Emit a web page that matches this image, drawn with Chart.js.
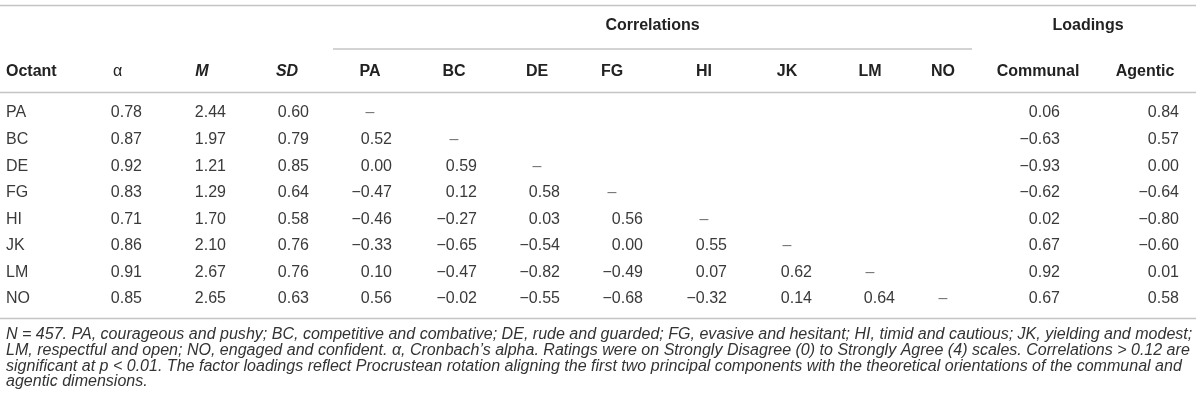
<!DOCTYPE html>
<html><head><meta charset="utf-8">
<script src="https://cdn.jsdelivr.net/npm/chart.js@4"></script>
<style>html,body{margin:0;padding:0;background:#fff}#wrap{width:1200px;height:413px;position:relative}</style>
</head><body><div id="wrap"><canvas id="c"></canvas></div>
<script>
// ---------- DATA ----------
const octants = ['PA','BC','DE','FG','HI','JK','LM','NO'];
const alphas  = [0.78,0.87,0.92,0.83,0.71,0.86,0.91,0.85];
const means   = [2.44,1.97,1.21,1.29,1.70,2.10,2.67,2.65];
const sds     = [0.60,0.79,0.85,0.64,0.58,0.76,0.76,0.63];
// lower-triangle correlations (row octant vs earlier octants)
const corrPA = [];
const corrBC = [0.52];
const corrDE = [0.00, 0.59];
const corrFG = [-0.47, 0.12, 0.58];
const corrHI = [-0.46, -0.27, 0.03, 0.56];
const corrJK = [-0.33, -0.65, -0.54, 0.00, 0.55];
const corrLM = [0.10, -0.47, -0.82, -0.49, 0.07, 0.62];
const corrNO = [0.56, -0.02, -0.55, -0.68, -0.32, 0.14, 0.64];
const communal = [0.06,-0.63,-0.93,-0.62,0.02,0.67,0.92,0.67];
const agentic  = [0.84,0.57,0.00,-0.64,-0.80,-0.60,0.01,0.58];
const columnHeaders = ['Octant','α','M','SD','PA','BC','DE','FG','HI','JK','LM','NO','Communal','Agentic'];
const groupHeaders = ['Correlations','Loadings'];
const footnoteLines = [
  'N = 457. PA, courageous and pushy; BC, competitive and combative; DE, rude and guarded; FG, evasive and hesitant; HI, timid and cautious; JK, yielding and modest;',
  'LM, respectful and open; NO, engaged and confident. α, Cronbach\u2019s alpha. Ratings were on Strongly Disagree (0) to Strongly Agree (4) scales. Correlations > 0.12 are',
  'significant at p < 0.01. The factor loadings reflect Procrustean rotation aligning the first two principal components with the theoretical orientations of the communal and',
  'agentic dimensions.'
];

// ---------- LAYOUT (style only) ----------
const FONT = '"Liberation Sans", Arial, sans-serif';
const colCenter = [6, 117.5, 202, 287, 370, 454, 537, 612, 704, 787, 870, 943, 1038, 1145];
const colRight  = [null, 142, 226, 309, 392, 477, 560, 643, 727, 812, 895, null, 1060, 1179];
const headerStyle = ['bold','normal','bold italic','bold italic','bold','bold','bold','bold','bold','bold','bold','bold','bold','bold'];
const groupSpan = [[333, 972], [997, 1179]];
const Y = {topRule:-4.046, group:-3.274, groupRule:-2.409, header:-1.543, headerRule:-0.772, bottomRule:7.734, foot:[8.355,8.957,9.560,10.125]};
const ROW0 = 113, STEP = 26.57;

const corr = [corrPA,corrBC,corrDE,corrFG,corrHI,corrJK,corrLM,corrNO];
const fmt = v => v.toFixed(2).replace('-', '\u2212');

// Build datasets: each column a scatter dataset of text cells
const datasets = [];
datasets.push({label:'Octant', align:'left', data: octants.map((o,i)=>({x:colCenter[0], y:i, t:o}))});
[[alphas,1],[means,2],[sds,3]].forEach(([arr,c])=>{
  datasets.push({label:columnHeaders[c], align:'right', data: arr.map((v,i)=>({x:colRight[c], y:i, t:fmt(v)}))});
});
for (let j = 0; j < 8; j++) {
  const pts = [];
  for (let i = j; i < 8; i++) {
    if (i === j) pts.push({x: colCenter[4+j], y: i, t: '\u2013', dash: true});
    else pts.push({x: colRight[4+j], y: i, t: fmt(corr[i][j])});
  }
  datasets.push({label: columnHeaders[4+j], align:'right', data: pts});
}
datasets.push({label:'Communal', align:'right', data: communal.map((v,i)=>({x:colRight[12], y:i, t:fmt(v)}))});
datasets.push({label:'Agentic', align:'right', data: agentic.map((v,i)=>({x:colRight[13], y:i, t:fmt(v)}))});
datasets.forEach(d => { d.pointRadius = 0; d.pointHoverRadius = 0; d.showLine = false; });

const tablePlugin = {
  id: 'tablePlugin',
  afterDatasetsDraw(chart) {
    const ctx = chart.ctx, xs = chart.scales.x, ys = chart.scales.y;
    const px = v => xs.getPixelForValue(v), py = v => ys.getPixelForValue(v);
    ctx.save();
    // rules
    const rule = (x1, x2, y, w, col) => { ctx.beginPath(); ctx.strokeStyle = col; ctx.lineWidth = w; ctx.moveTo(px(x1), py(y)); ctx.lineTo(px(x2), py(y)); ctx.stroke(); };
    rule(0, 1196, Y.topRule, 1.6, '#c4c4c4');
    rule(groupSpan[0][0], groupSpan[0][1], Y.groupRule, 1.2, '#a8a8a8');
    rule(0, 1196, Y.headerRule, 1.6, '#c4c4c4');
    rule(0, 1196, Y.bottomRule, 1.6, '#c4c4c4');
    // group headers
    ctx.textBaseline = 'middle';
    ctx.fillStyle = '#222';
    ctx.font = 'bold 16px ' + FONT;
    ctx.textAlign = 'center';
    groupHeaders.forEach((g, k) => ctx.fillText(g, px((groupSpan[k][0] + groupSpan[k][1]) / 2), py(Y.group)));
    // column headers
    columnHeaders.forEach((h, c) => {
      ctx.font = headerStyle[c] + ' 16px ' + FONT;
      ctx.textAlign = c === 0 ? 'left' : 'center';
      ctx.fillText(h, px(colCenter[c]), py(Y.header));
    });
    // cells from dataset elements
    ctx.font = '16px ' + FONT;
    ctx.fillStyle = '#3a3a3a';
    chart.data.datasets.forEach((ds, di) => {
      const meta = chart.getDatasetMeta(di);
      meta.data.forEach((el, i) => {
        const p = ds.data[i];
        ctx.textAlign = p.dash ? 'center' : ds.align;
        ctx.fillStyle = p.dash ? '#777' : '#3a3a3a';
        ctx.fillText(p.t, el.x, el.y);
      });
    });
    // footnote
    ctx.fillStyle = '#333';
    ctx.textAlign = 'left';
    ctx.font = 'italic 14px ' + FONT;
    const w0 = ctx.measureText(footnoteLines[0]).width;
    const fs = 14 * 1187 / w0;
    ctx.font = 'italic ' + fs.toFixed(2) + 'px ' + FONT;
    footnoteLines.forEach((l, k) => ctx.fillText(l, px(6), py(Y.foot[k])));
    ctx.restore();
  }
};

new Chart(document.getElementById('c'), {
  type: 'scatter',
  data: { datasets },
  options: {
    responsive: true, maintainAspectRatio: false, animation: false, devicePixelRatio: 1,
    layout: { padding: 0 },
    plugins: { legend: { display: false }, tooltip: { enabled: false }, title: { display: false } },
    events: [],
    scales: {
      x: { type: 'linear', display: false, min: 0, max: 1200 },
      y: { type: 'linear', display: false, reverse: true, min: -ROW0 / STEP, max: (413 - ROW0) / STEP }
    }
  },
  plugins: [tablePlugin]
});
</script></body></html>
